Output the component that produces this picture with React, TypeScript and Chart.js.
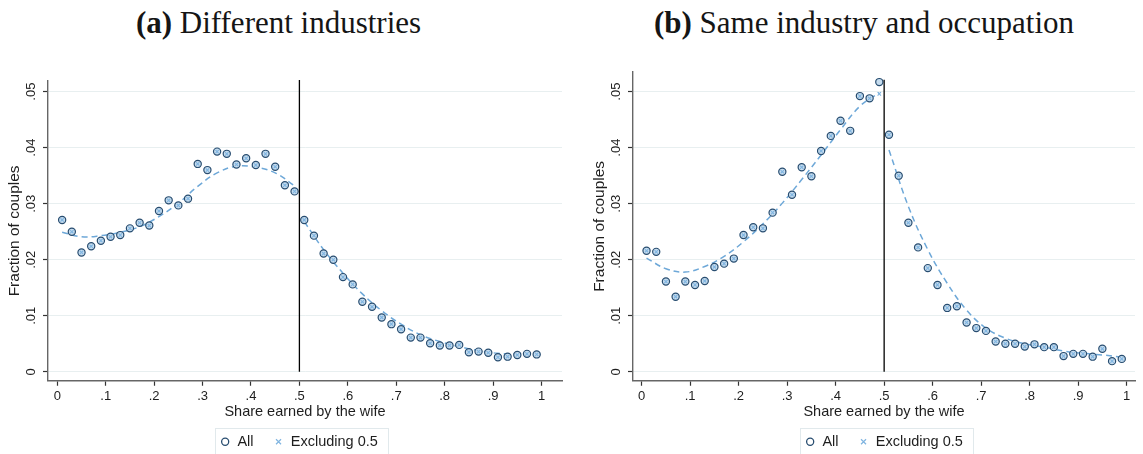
import React, { useEffect, useRef } from "react";
import { Chart, registerables } from "chart.js";

Chart.register(...registerables);

// ---------- data ----------
const bins = [
  0.01, 0.03, 0.05, 0.07, 0.09, 0.11, 0.13, 0.15, 0.17, 0.19,
  0.21, 0.23, 0.25, 0.27, 0.29, 0.31, 0.33, 0.35, 0.37, 0.39,
  0.41, 0.43, 0.45, 0.47, 0.49, 0.51, 0.53, 0.55, 0.57, 0.59,
  0.61, 0.63, 0.65, 0.67, 0.69, 0.71, 0.73, 0.75, 0.77, 0.79,
  0.81, 0.83, 0.85, 0.87, 0.89, 0.91, 0.93, 0.95, 0.97, 0.99,
];

const allA = [
  0.0271, 0.0250, 0.0213, 0.0224, 0.0234, 0.0241, 0.0244, 0.0256, 0.0266, 0.0261,
  0.0287, 0.0306, 0.0297, 0.0309, 0.0371, 0.0360, 0.0393, 0.0389, 0.0370, 0.0381,
  0.0369, 0.0389, 0.0366, 0.0333, 0.0322, 0.0271, 0.0243, 0.0211, 0.0200, 0.0169,
  0.0156, 0.0125, 0.0116, 0.0097, 0.0085, 0.0076, 0.0061, 0.0061, 0.0051, 0.0047,
  0.0047, 0.0048, 0.0035, 0.0036, 0.0034, 0.0026, 0.0027, 0.0030, 0.0032, 0.0031,
];
const exclA = [
  0.0271, 0.0250, 0.0213, 0.0224, 0.0234, 0.0241, 0.0244, 0.0256, 0.0266, 0.0261,
  0.0287, 0.0306, 0.0297, 0.0309, 0.0371, 0.0360, 0.0393, 0.0389, 0.0370, 0.0381,
  0.0369, 0.0389, 0.0366, 0.0333, 0.0322, 0.0271, 0.0243, 0.0211, 0.0200, 0.0169,
  0.0156, 0.0125, 0.0116, 0.0097, 0.0085, 0.0076, 0.0061, 0.0061, 0.0051, 0.0047,
  0.0047, 0.0048, 0.0035, 0.0036, 0.0034, 0.0026, 0.0027, 0.0030, 0.0032, 0.0031,
];

const allB = [
  0.0216, 0.0214, 0.0161, 0.0134, 0.0161, 0.0155, 0.0162, 0.0187, 0.0193, 0.0202,
  0.0244, 0.0258, 0.0256, 0.0284, 0.0357, 0.0316, 0.0365, 0.0349, 0.0394, 0.0421,
  0.0448, 0.0430, 0.0492, 0.0488, 0.0517, 0.0423, 0.0350, 0.0266, 0.0222, 0.0185,
  0.0155, 0.0114, 0.0117, 0.0088, 0.0078, 0.0073, 0.0054, 0.0050, 0.0050, 0.0045,
  0.0049, 0.0044, 0.0044, 0.0028, 0.0032, 0.0032, 0.0027, 0.0041, 0.0019, 0.0023,
];
const exclB = [
  0.0216, 0.0214, 0.0161, 0.0134, 0.0161, 0.0155, 0.0162, 0.0187, 0.0193, 0.0202,
  0.0244, 0.0258, 0.0256, 0.0284, 0.0357, 0.0316, 0.0365, 0.0349, 0.0394, 0.0421,
  0.0448, 0.0430, 0.0492, 0.0488, 0.0496, 0.0423, 0.0350, 0.0266, 0.0222, 0.0185,
  0.0155, 0.0114, 0.0117, 0.0088, 0.0078, 0.0073, 0.0054, 0.0050, 0.0050, 0.0045,
  0.0049, 0.0044, 0.0044, 0.0028, 0.0032, 0.0032, 0.0027, 0.0041, 0.0019, 0.0023,
];

// fitted (dashed) curves, read at every other bin
const fitXLeft = [0.01, 0.05, 0.09, 0.13, 0.17, 0.21, 0.25, 0.29, 0.33, 0.37, 0.41, 0.45, 0.49];
const fitXRight = [0.51, 0.55, 0.59, 0.63, 0.67, 0.71, 0.75, 0.79, 0.83, 0.87, 0.91, 0.95, 0.99];
const fitALeft = [0.0249, 0.0241, 0.0243, 0.0249, 0.0259, 0.0277, 0.0301, 0.0331, 0.0355, 0.0367, 0.0365, 0.0355, 0.0332];
const fitARight = [0.0268, 0.0218, 0.0176, 0.0139, 0.0109, 0.0085, 0.0066, 0.0054, 0.0045, 0.0038, 0.0033, 0.0032, 0.0032];
const fitBLeft = [0.0203, 0.0184, 0.0178, 0.0188, 0.0206, 0.0232, 0.0264, 0.0301, 0.0343, 0.0387, 0.0432, 0.0474, 0.0498];
const fitBRight = [0.0396, 0.0295, 0.0218, 0.0158, 0.0110, 0.0078, 0.0060, 0.0050, 0.0044, 0.0037, 0.0033, 0.0030, 0.0026];

const cutoffX = 0.5;
const cutoffYs = [0, 0.0521];

const xTickValues = [0, 0.1, 0.2, 0.3, 0.4, 0.5, 0.6, 0.7, 0.8, 0.9, 1];
const xTickLabels = ["0", ".1", ".2", ".3", ".4", ".5", ".6", ".7", ".8", ".9", "1"];
const yTickValues = [0, 0.01, 0.02, 0.03, 0.04, 0.05];
const yTickLabels = ["0", ".01", ".02", ".03", ".04", ".05"];

const seriesLabels = ["All", "Excluding 0.5"];
const xTitle = "Share earned by the wife";
const yTitle = "Fraction of couples";

// ---------- style ----------
const SANS = '"Liberation Sans", Arial, sans-serif';
const SERIF = '"Liberation Serif", "Times New Roman", serif';
const NAVY = "#284d70";
const FILL = "#c6dcee";
const LIGHT = "#7fb4e0";
const DASH = "#6ea8d8";
const GRID = "#e8eff0";
const AXIS = "#666666";
const TEXT = "#1e1e1e";

type PanelCfg = {
  all: number[];
  excl: number[];
  fitL: number[];
  fitR: number[];
  xMin: number;
  xMax: number;
  yMin: number;
  yMax: number;
  padTop: number;
  padL: number;
  padR: number;
  yAxisW: number;
  left: number;
  width: number;
};

const HEIGHT = 409;
const X_AXIS_H = 33.75;

function Panel({ cfg }: { cfg: PanelCfg }) {
  const ref = useRef<HTMLCanvasElement | null>(null);

  useEffect(() => {
    if (!ref.current) return;
    const pts = (xs: number[], ys: number[]) => xs.map((x, i) => ({ x, y: ys[i] }));

    const decor = {
      id: "decor",
      afterDraw(chart: any) {
        const ctx = chart.ctx as CanvasRenderingContext2D;
        const y = chart.scales.y;
        const area = chart.chartArea;
        ctx.save();
        ctx.fillStyle = TEXT;
        ctx.font = `13px ${SANS}`;
        ctx.textAlign = "center";
        ctx.textBaseline = "middle";
        yTickValues.forEach((v, i) => {
          const py = y.getPixelForValue(v);
          ctx.save();
          ctx.translate(31, py);
          ctx.rotate(-Math.PI / 2);
          ctx.fillText(yTickLabels[i], 0, 0);
          ctx.restore();
        });
        ctx.font = `15.5px ${SANS}`;
        ctx.save();
        ctx.translate(15, (area.top + area.bottom) / 2);
        ctx.rotate(-Math.PI / 2);
        ctx.fillText(yTitle, 0, 0);
        ctx.restore();

        const hb = chart.legend?.legendHitBoxes;
        if (hb && hb.length) {
          const l = hb[0].left - 5;
          const r = hb[hb.length - 1].left + hb[hb.length - 1].width + 10;
          const t = hb[0].top - 6.75;
          ctx.strokeStyle = "#e1e9ec";
          ctx.lineWidth = 1;
          ctx.strokeRect(Math.round(l) + 0.5, Math.round(t) + 0.5, Math.round(r - l), 40);
        }
        ctx.restore();
      },
    };

    const chart = new Chart(ref.current, {
      type: "scatter",
      data: {
        datasets: [
          {
            label: seriesLabels[0],
            data: pts(bins, cfg.all),
            pointStyle: "circle",
            pointRadius: 3.6,
            borderWidth: 1.2,
            borderColor: NAVY,
            backgroundColor: FILL,
            order: 2,
          },
          {
            label: seriesLabels[1],
            data: pts(bins, cfg.excl),
            pointStyle: "crossRot",
            pointRadius: 2.4,
            borderWidth: 1.1,
            borderColor: LIGHT,
            backgroundColor: LIGHT,
            order: 1,
          },
          {
            type: "line",
            label: "fitLeft",
            data: pts(fitXLeft, cfg.fitL),
            borderColor: DASH,
            borderWidth: 1.5,
            borderDash: [6, 4],
            pointRadius: 0,
            tension: 0.4,
            fill: false,
            order: 3,
          },
          {
            type: "line",
            label: "fitRight",
            data: pts(fitXRight, cfg.fitR),
            borderColor: DASH,
            borderWidth: 1.5,
            borderDash: [6, 4],
            pointRadius: 0,
            tension: 0.4,
            fill: false,
            order: 3,
          },
          {
            type: "line",
            label: "cutoff",
            data: cutoffYs.map((y) => ({ x: cutoffX, y })),
            borderColor: "#000000",
            borderWidth: 1.3,
            pointRadius: 0,
            clip: false,
            order: 0,
          },
        ] as any,
      },
      options: {
        responsive: true,
        maintainAspectRatio: false,
        animation: false,
        events: [],
        layout: { padding: { left: cfg.padL, right: cfg.padR, top: cfg.padTop, bottom: 0 } },
        scales: {
          x: {
            type: "linear",
            min: cfg.xMin,
            max: cfg.xMax,
            afterBuildTicks: (s: any) => {
              s.ticks = xTickValues.map((v) => ({ value: v }));
            },
            afterFit: (s: any) => {
              s.height = X_AXIS_H;
            },
            ticks: {
              callback: (_v: any, i: number) => xTickLabels[i],
              font: { family: SANS, size: 13 },
              color: TEXT,
              padding: 3,
              maxRotation: 0,
              minRotation: 0,
              autoSkip: false,
            },
            grid: { drawOnChartArea: false, drawTicks: true, tickLength: 5, tickColor: "#333", tickWidth: 1.2 },
            border: { color: AXIS, width: 1.4 },
            title: {
              display: true,
              text: xTitle,
              color: TEXT,
              font: { family: SANS, size: 14.5, lineHeight: 1 },
              padding: { top: 0, bottom: -5 },
            },
          },
          y: {
            type: "linear",
            min: cfg.yMin,
            max: cfg.yMax,
            afterBuildTicks: (s: any) => {
              s.ticks = yTickValues.map((v) => ({ value: v }));
            },
            afterFit: (s: any) => {
              s.width = cfg.yAxisW;
            },
            ticks: { display: false },
            grid: { color: GRID, lineWidth: 1, drawTicks: true, tickLength: 5, tickColor: "#333", tickWidth: 1.2 },
            border: { color: AXIS, width: 1.4 },
          },
        } as any,
        plugins: {
          tooltip: { enabled: false },
          legend: {
            position: "bottom",
            labels: {
              usePointStyle: true,
              boxWidth: 10,
              boxHeight: 5,
              padding: 20,
              color: TEXT,
              font: { family: SANS, size: 14.5 },
              generateLabels: (chart: any) => {
                const base = (Chart.defaults.plugins.legend.labels as any).generateLabels(chart);
                return base
                  .filter((it: any) => it.datasetIndex < 2)
                  .sort((a: any, b: any) => a.datasetIndex - b.datasetIndex)
                  .map((it: any) =>
                    it.datasetIndex === 0
                      ? { ...it, fillStyle: "#ffffff", strokeStyle: NAVY, lineWidth: 1.3 }
                      : { ...it, strokeStyle: LIGHT, fillStyle: LIGHT, lineWidth: 1.2 }
                  );
              },
            },
          },
        } as any,
      },
      plugins: [decor],
    });
    return () => chart.destroy();
  }, [cfg]);

  return (
    <div style={{ position: "absolute", left: cfg.left, top: 50, width: cfg.width, height: HEIGHT }}>
      <canvas ref={ref} />
    </div>
  );
}

const panelA: PanelCfg = {
  all: allA,
  excl: exclA,
  fitL: fitALeft,
  fitR: fitARight,
  xMin: -0.0192,
  xMax: 1.0423,
  yMin: -0.0016,
  yMax: 0.0519,
  padTop: 31,
  padL: 36,
  padR: 10,
  yAxisW: 12,
  left: 0,
  width: 572,
};

const panelB: PanelCfg = {
  all: allB,
  excl: exclB,
  fitL: fitBLeft,
  fitR: fitBRight,
  xMin: -0.0179,
  xMax: 1.0173,
  yMin: -0.0016,
  yMax: 0.0535,
  padTop: 22,
  padL: 48,
  padR: 8,
  yAxisW: 0,
  left: 585,
  width: 558,
};

const titleStyle = (center: number): React.CSSProperties => ({
  position: "absolute",
  left: center - 300,
  width: 600,
  top: 7,
  textAlign: "center",
  font: `31px ${SERIF}`,
  lineHeight: "31px",
  color: "#151515",
  whiteSpace: "nowrap",
});

export default function App() {
  return (
    <div
      style={{
        position: "absolute",
        left: 0,
        top: 0,
        width: 1143,
        height: 454,
        overflow: "hidden",
        background: "#ffffff",
      }}
    >
      <div style={titleStyle(278.5)}>
        <b>(a)</b> Different industries
      </div>
      <div style={titleStyle(864)}>
        <b>(b)</b> Same industry and occupation
      </div>
      <Panel cfg={panelA} />
      <Panel cfg={panelB} />
    </div>
  );
}
